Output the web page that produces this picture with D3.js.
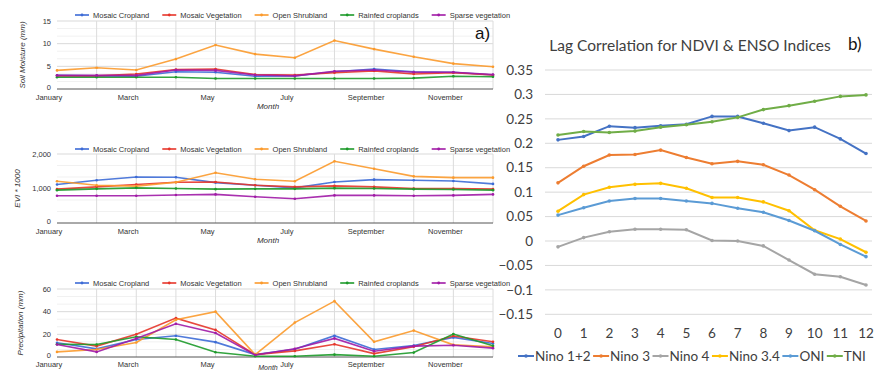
<!DOCTYPE html>
<html><head><meta charset="utf-8">
<script src="https://cdn.jsdelivr.net/npm/d3@7"></script>
<style>
html,body{margin:0;padding:0;background:#fff;}
svg{display:block;}
</style></head>
<body>
<svg id="c" width="882" height="371"></svg>
<script>
// ---------- Data: left panels (a) ----------
const months = ["January","February","March","April","May","June","July","August","September","October","November","December"];
const monthLabels = ["January","March","May","July","September","November"];
const landCovers = ["Mosaic Cropland","Mosaic Vegetation","Open Shrubland","Rainfed croplands","Sparse vegetation"];

// Soil Moisture (mm)
const smMosaicCropland   = [3.0,2.9,2.8,3.8,3.7,2.8,2.9,3.8,4.4,3.8,3.7,3.1];
const smMosaicVegetation = [2.9,2.9,3.3,4.3,4.4,3.2,3.1,3.6,4.0,3.3,3.6,3.1];
const smOpenShrubland    = [4.1,4.7,4.2,6.6,9.7,7.7,6.9,10.7,8.8,7.1,5.6,4.9];
const smRainfed          = [2.6,2.6,2.6,2.6,2.3,2.3,2.3,2.3,2.3,2.4,2.8,2.7];
const smSparse           = [3.0,3.0,3.0,4.2,4.1,3.1,2.9,3.9,4.2,3.7,3.7,3.2];
const smTicks = [0,5,10,15];

// EVI * 1000
const eviMosaicCropland   = [1114,1238,1333,1324,1171,1095,1019,1190,1257,1238,1219,1133];
const eviMosaicVegetation = [981,1048,1114,1180,1190,1095,1048,1076,1048,1000,1000,981];
const eviOpenShrubland    = [1210,1095,1070,1180,1457,1267,1210,1790,1571,1352,1314,1314];
const eviRainfed          = [952,990,1019,1000,981,990,990,1010,1000,981,971,952];
const eviSparse           = [790,790,790,810,829,762,705,800,800,790,800,829];
const eviTicks = [0,1000,2000];

// Precipitation (mm)
const prMosaicCropland   = [12.5,7.2,15.5,18.8,13.1,2.1,6.9,18.8,6.6,10.1,17.3,11.9];
const prMosaicVegetation = [15.5,9.6,20.0,34.3,23.9,2.1,5.4,11.3,3.0,9.0,18.5,13.4];
const prOpenShrubland    = [4.5,6.6,12.8,32.8,40.0,2.1,30.4,49.3,13.4,23.3,10.7,9.0];
const prRainfed          = [11.3,11.0,17.9,15.5,4.2,0.6,0.6,2.1,0.6,3.9,20.3,9.9];
const prSparse           = [11.0,4.5,16.4,29.3,21.2,1.8,7.2,16.4,5.1,9.6,10.4,7.8];
const prTicks = [0,20,40,60];

// ---------- Data: right panel (b) ----------
const lags = [0,1,2,3,4,5,6,7,8,9,10,11,12];
const ensoNames = ["Nino 1+2","Nino 3","Nino 4","Nino 3.4","ONI","TNI"];
const nino12 = [0.207,0.214,0.235,0.232,0.236,0.239,0.255,0.255,0.241,0.226,0.233,0.209,0.179];
const nino3  = [0.119,0.153,0.176,0.177,0.186,0.171,0.158,0.163,0.156,0.135,0.105,0.071,0.041];
const nino4  = [-0.012,0.007,0.019,0.024,0.024,0.023,0.001,0.000,-0.010,-0.039,-0.068,-0.073,-0.090];
const nino34 = [0.061,0.095,0.110,0.116,0.118,0.108,0.089,0.089,0.080,0.062,0.022,0.004,-0.023];
const oni    = [0.053,0.068,0.082,0.087,0.087,0.082,0.077,0.067,0.059,0.042,0.021,-0.007,-0.032];
const tni    = [0.217,0.224,0.222,0.225,0.233,0.238,0.244,0.253,0.269,0.277,0.286,0.296,0.299];
const corrTicks = [-0.15,-0.1,-0.05,0,0.05,0.1,0.15,0.2,0.25,0.3,0.35];

// ---------- Drawing ----------
const svg = d3.select("#c");
const leftColors = ["#3d6bd6","#e6352a","#fb9a2c","#1d9a2a","#a01aa6"];
const leftFont = "Liberation Sans, Arial, sans-serif";

function leftPanel(cfg){
  const x = d3.scalePoint().domain(months).range([57,493]);
  const y = d3.scaleLinear().domain([cfg.ticks[0], cfg.ticks[cfg.ticks.length-1]]).range([cfg.bottom, cfg.top]);
  const g = svg.append("g");
  const minor = [];
  for(let i=0;i<cfg.ticks.length-1;i++){
    const a=cfg.ticks[i], b=cfg.ticks[i+1];
    minor.push(a+(b-a)/3, a+2*(b-a)/3);
  }
  g.selectAll(".mn").data(minor).join("line")
    .attr("x1",57).attr("x2",493).attr("y1",d=>y(d)).attr("y2",d=>y(d))
    .attr("stroke","#f1f1f1").attr("stroke-width",1);
  g.selectAll(".mj").data(cfg.ticks.slice(1)).join("line")
    .attr("x1",57).attr("x2",493).attr("y1",d=>y(d)).attr("y2",d=>y(d))
    .attr("stroke","#d9d9d9").attr("stroke-width",1);
  g.selectAll(".vg").data(months.slice(1)).join("line")
    .attr("x1",d=>x(d)).attr("x2",d=>x(d)).attr("y1",cfg.top).attr("y2",cfg.bottom)
    .attr("stroke","#dcdcdc").attr("stroke-width",1);
  g.append("line").attr("x1",57).attr("x2",493).attr("y1",y(cfg.ticks[0])).attr("y2",y(cfg.ticks[0]))
    .attr("stroke","#555").attr("stroke-width",1);
  g.selectAll(".yl").data(cfg.ticks).join("text")
    .attr("x",51).attr("y",d=>y(d) - (d===cfg.ticks[0] ? 1.5 : 0)).attr("dy","0.35em").attr("text-anchor","end")
    .attr("font-family",leftFont).attr("font-size",7.5).attr("fill","#333")
    .text(d=>cfg.fmt(d));
  g.selectAll(".xl").data(monthLabels).join("text")
    .attr("x",d=>x(d)-8).attr("y",cfg.bottom+cfg.xlOff).attr("dy","0.35em").attr("text-anchor","middle")
    .attr("font-family",leftFont).attr("font-size",7.5).attr("fill","#333")
    .text(d=>d);
  g.append("text").attr("x",268).attr("y",cfg.bottom+cfg.mOff).attr("dy","0.35em").attr("text-anchor","middle")
    .attr("font-family",leftFont).attr("font-size",cfg.mSize).attr("font-style","italic").attr("fill","#333")
    .text("Month");
  g.append("text").attr("transform",`translate(${cfg.titleX},${(cfg.top+cfg.bottom)/2}) rotate(-90)`)
    .attr("text-anchor","middle").attr("dy","0.35em")
    .attr("font-family",leftFont).attr("font-size",8).attr("font-style","italic").attr("fill","#333")
    .text(cfg.title);
  const line = d3.line().x((d,i)=>x(months[i])).y(d=>y(d));
  cfg.series.forEach((s,k)=>{
    g.append("path").attr("d",line(s)).attr("fill","none")
      .attr("stroke",leftColors[k]).attr("stroke-width",1.6).attr("stroke-opacity",0.9);
    g.selectAll(null).data(s).join("circle")
      .attr("cx",(d,i)=>x(months[i])).attr("cy",d=>y(d)).attr("r",1.3).attr("fill",leftColors[k]);
  });
  let lx = 75;
  landCovers.forEach((name,k)=>{
    const ly = cfg.legendY;
    g.append("line").attr("x1",lx).attr("x2",lx+14).attr("y1",ly).attr("y2",ly)
      .attr("stroke",leftColors[k]).attr("stroke-width",1.6);
    g.append("circle").attr("cx",lx+7).attr("cy",ly).attr("r",1.4).attr("fill",leftColors[k]);
    const t = g.append("text").attr("x",lx+18).attr("y",ly).attr("dy","0.35em")
      .attr("font-family",leftFont).attr("font-size",7.5).attr("fill","#333").text(name);
    lx += 18 + t.node().getComputedTextLength() + 13;
  });
}

leftPanel({top:21,bottom:89,ticks:smTicks,fmt:d3.format(""),title:"Soil Moisture (mm)",titleX:22,legendY:15,
  xlOff:8,mOff:17,mSize:8,
  series:[smMosaicCropland,smMosaicVegetation,smOpenShrubland,smRainfed,smSparse]});
leftPanel({top:154,bottom:223,ticks:eviTicks,fmt:d3.format(","),title:"EVI * 1000",titleX:17,legendY:149,
  xlOff:8,mOff:17,mSize:8,
  series:[eviMosaicCropland,eviMosaicVegetation,eviOpenShrubland,eviRainfed,eviSparse]});
leftPanel({top:289,bottom:357,ticks:prTicks,fmt:d3.format(""),title:"Precipitation (mm)",titleX:20,legendY:283,
  xlOff:7,mOff:11,mSize:7,
  series:[prMosaicCropland,prMosaicVegetation,prOpenShrubland,prRainfed,prSparse]});

svg.append("text").attr("x",475).attr("y",39).attr("font-family",leftFont).attr("font-size",17)
  .attr("fill","#111").text("a)");

// ---------- Right panel ----------
const rFont = "Lato, 'Open Sans', sans-serif";
const rColors = ["#4472c4","#ed7d31","#a5a5a5","#ffc000","#5b9bd5","#70ad47"];
const rx = d3.scaleLinear().domain([0,12]).range([558,866]);
const ry = d3.scaleLinear().domain([-0.15,0.35]).range([314.3,70]);
const rg = svg.append("g");
rg.selectAll(".rgrid").data(corrTicks).join("line")
  .attr("x1",545).attr("x2",872).attr("y1",d=>ry(d)).attr("y2",d=>ry(d))
  .attr("stroke","#d9d9d9").attr("stroke-width",1);
rg.selectAll(".ryl").data(corrTicks).join("text")
  .attr("x",533).attr("y",d=>ry(d)).attr("dy","0.35em").attr("text-anchor","end")
  .attr("font-family",rFont).attr("font-size",13.5).attr("fill","#404040")
  .text(d=>d3.format("")(+d.toFixed(2)));
rg.selectAll(".rxl").data(lags).join("text")
  .attr("x",d=>rx(d)).attr("y",333).attr("dy","0.35em").attr("text-anchor","middle")
  .attr("font-family",rFont).attr("font-size",13.5).attr("fill","#404040").text(d=>d);
rg.append("text").attr("x",690).attr("y",46).attr("dy","0.35em").attr("text-anchor","middle")
  .attr("font-family",rFont).attr("font-size",15.5).attr("fill","#404040")
  .text("Lag Correlation for NDVI & ENSO Indices");
rg.append("text").attr("x",848).attr("y",44).attr("dy","0.35em")
  .attr("font-family",rFont).attr("font-size",17).attr("fill","#111").text("b)");

const rSeries = [nino12,nino3,nino4,nino34,oni,tni];
const rline = d3.line().x((d,i)=>rx(lags[i])).y(d=>ry(d));
rSeries.forEach((s,k)=>{
  rg.append("path").attr("d",rline(s)).attr("fill","none")
    .attr("stroke",rColors[k]).attr("stroke-width",2);
  rg.selectAll(null).data(s).join("circle")
    .attr("cx",(d,i)=>rx(lags[i])).attr("cy",d=>ry(d)).attr("r",1.8).attr("fill",rColors[k]);
});
let rlx = 518;
ensoNames.forEach((name,k)=>{
  const ly = 356;
  rg.append("line").attr("x1",rlx).attr("x2",rlx+16).attr("y1",ly).attr("y2",ly)
    .attr("stroke",rColors[k]).attr("stroke-width",2);
  rg.append("circle").attr("cx",rlx+8).attr("cy",ly).attr("r",1.8).attr("fill",rColors[k]);
  const t = rg.append("text").attr("x",rlx+17).attr("y",ly).attr("dy","0.35em")
    .attr("font-family",rFont).attr("font-size",13.5).attr("fill","#404040").text(name);
  rlx += 17 + t.node().getComputedTextLength() + 2.5;
});
</script>
</body></html>
